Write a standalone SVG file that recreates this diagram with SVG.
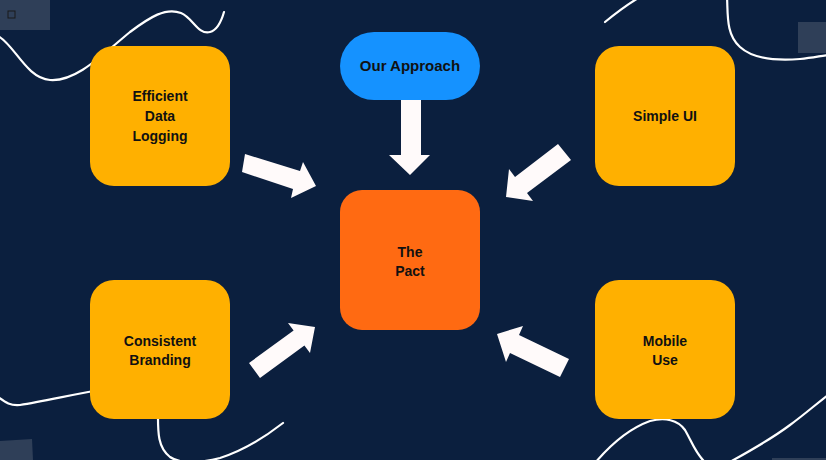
<svg xmlns="http://www.w3.org/2000/svg" width="826" height="460" viewBox="0 0 826 460">
<style>
.curve{fill:none;stroke:#ffffff;stroke-width:2.2;stroke-linecap:round}
.deco{fill:#2f3f58}
.box{fill:#ffb000}
.lbl{font-family:"Liberation Sans",Arial,sans-serif;font-weight:bold;font-size:14px;fill:#111111;text-anchor:middle}
.arrow{fill:#fffafa}
</style>
<rect width="826" height="460" fill="#0b1f3e"/>
<g id="decor">
<rect class="deco" x="0" y="0" width="50" height="30"/>
<rect x="8" y="11" width="7" height="7" fill="none" stroke="#1a1a1a" stroke-width="1"/>
<rect class="deco" x="798" y="22" width="28" height="31"/>
<polygon class="deco" points="0,441 32,439 33,460 0,460"/>
<rect class="deco" x="772" y="458" width="54" height="2"/>
<path class="curve" d="M-2,36 C14,44 26,78 50,80 C76,82 102,55 130,32 C150,17 166,7 181,13 C193,18 198,35 210,32 C218,30 222,19 224,12"/>
<path class="curve" d="M605,22 C616,13 628,4 640,-3"/>
<path class="curve" d="M727,-3 C728,15 726,35 740,47 C752,58 775,61 800,59 C812,58 820,56 828,55"/>
<path class="curve" d="M-2,397 C5,402 10,406 20,405 C45,401 70,395 110,388"/>
<path class="curve" d="M158,412 C158,430 157,447 170,457 C181,465 205,462 220,458 C245,450 265,437 283,423"/>
<path class="curve" d="M595,463 C606,450 625,430 650,421 C665,417 678,420 685,430 C692,442 696,455 706,463"/>
<path class="curve" d="M728,463 C750,451 770,440 790,425 C805,414 815,405 828,395"/>
</g>
<g id="connectors">
<polygon class="arrow" points="401,100 421,100 421,155 430,155 410,175 389,155 401,155"/>
<polygon class="arrow" points="245,154 300,171 303,162 316,186 291,198 293,189 242,172"/>
<polygon class="arrow" points="558,144 515,177 509,169 506,197 533,201 527,193 571,160"/>
<polygon class="arrow" points="249,363 293.6,330.5 288,323 315,327 310,353 304.4,345.5 260,378"/>
<polygon class="arrow" points="569,359 519,335 523,326 497,334 506,362 510,353 560,377"/>
</g>
<g id="approach">
<rect x="340" y="32" width="140" height="68" rx="34" fill="#1592ff"/>
<text class="lbl" x="410" y="71" style="font-size:15px">Our Approach</text>
</g>
<g id="pact">
<rect x="340" y="190" width="140" height="140" rx="22" fill="#ff6a12"/>
<text class="lbl" x="410" y="257">The</text>
<text class="lbl" x="410" y="276">Pact</text>
</g>
<g id="logging">
<rect class="box" x="90" y="46" width="140" height="140" rx="24"/>
<text class="lbl" x="160" y="101">Efficient</text>
<text class="lbl" x="160" y="121">Data</text>
<text class="lbl" x="160" y="141">Logging</text>
</g>
<g id="simpleui">
<rect class="box" x="595" y="46" width="140" height="140" rx="24"/>
<text class="lbl" x="665" y="121">Simple UI</text>
</g>
<g id="branding">
<rect class="box" x="90" y="280" width="140" height="139" rx="24"/>
<text class="lbl" x="160" y="346">Consistent</text>
<text class="lbl" x="160" y="365">Branding</text>
</g>
<g id="mobile">
<rect class="box" x="595" y="280" width="140" height="139" rx="24"/>
<text class="lbl" x="665" y="346">Mobile</text>
<text class="lbl" x="665" y="365">Use</text>
</g>
</svg>
